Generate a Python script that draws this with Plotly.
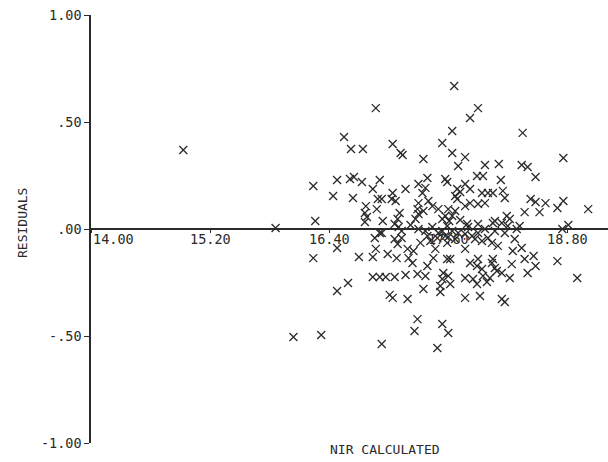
import plotly.graph_objects as go

# NIR calculated values (x) and residuals (y)
nir_calc = [
    14.93, 15.86, 16.04, 16.32, 16.26, 16.24, 16.24, 16.44, 16.48, 16.48,
    16.48, 16.59, 16.55, 16.62, 16.74, 16.87, 16.61, 16.65, 16.73, 16.91,
    16.64, 16.84, 16.89, 16.93, 16.77, 16.76, 16.78, 16.76, 16.88, 16.94,
    16.70, 16.84, 16.86, 16.93, 16.87, 16.84, 16.91, 16.97, 17.06, 17.17,
    17.01, 17.04, 17.19, 16.93, 17.29, 17.26, 17.54, 17.60, 17.49, 16.99,
    17.08, 17.06, 17.13, 17.09, 17.19, 17.20, 17.25, 17.24, 17.32, 17.39,
    17.42, 17.47, 17.45, 17.39, 17.37, 17.29, 17.49, 17.54, 17.59, 17.59,
    17.55, 17.54, 17.52, 17.35, 17.62, 17.52, 17.04, 17.54, 17.12, 17.14,
    17.35, 17.64, 17.77, 17.70, 17.97, 17.89, 17.95, 17.39, 17.57, 17.59,
    17.30, 17.37, 17.34, 17.17, 17.04, 17.03, 17.07, 17.69, 17.72, 17.67,
    17.69, 17.77, 17.82, 17.94, 18.00, 17.90, 17.97, 17.40, 17.44, 17.30,
    17.29, 17.30, 17.27, 17.50, 17.60, 17.67, 17.57, 17.64, 17.11, 17.09,
    17.06, 17.10, 17.77, 17.82, 17.66, 17.90, 17.82, 17.64, 18.35, 18.76,
    18.11, 18.34, 18.40, 18.48, 18.13, 18.05, 18.15, 18.17, 18.43, 18.48,
    18.58, 18.76, 18.70, 18.37, 18.52, 19.01, 18.07, 18.14, 18.22, 18.20,
    18.81, 18.75, 18.29, 17.90, 17.72, 17.61, 17.54, 17.59, 17.22, 17.30,
    17.37, 17.44, 17.50, 17.57, 17.64, 17.70, 17.60, 17.67, 17.77, 17.84,
    17.90, 17.87, 17.94, 18.00, 18.04, 18.10, 18.27, 18.25, 18.34, 17.77,
    17.82, 17.89, 17.90, 18.05, 18.07, 18.24, 18.37, 18.46, 18.48, 18.40,
    18.70, 18.90, 17.62, 17.60, 17.77, 17.85, 17.89, 17.95, 18.02, 18.09,
    18.14, 18.22, 17.77, 17.92, 18.14, 18.17, 18.19, 18.07, 18.17, 17.97,
    17.80, 17.13, 18.32, 16.91, 17.35, 17.79, 18.05, 18.04, 17.99, 17.94,
]
residuals = [
    0.369, 0.005, -0.505, -0.495, 0.037, 0.201, -0.136, 0.154, 0.229, -0.089,
    -0.290, -0.252, 0.430, 0.374, 0.374, 0.565, 0.234, 0.243, 0.220, 0.229,
    0.145, 0.187, 0.140, 0.140, 0.107, 0.075, 0.056, 0.033, 0.093, 0.037,
    -0.131, -0.131, -0.042, -0.019, -0.093, -0.224, -0.224, -0.224, -0.224, -0.215,
    -0.308, -0.322, -0.327, -0.537, -0.421, -0.477, -0.444, -0.486, -0.556, -0.117,
    -0.136, -0.047, -0.042, -0.070, -0.093, -0.136, -0.103, -0.159, -0.065, -0.033,
    -0.056, -0.093, -0.136, -0.173, -0.220, -0.210, -0.042, -0.009, -0.065, -0.140,
    -0.206, -0.234, -0.266, -0.280, -0.257, -0.294, 0.397, 0.402, 0.355, 0.346,
    0.327, 0.355, 0.336, 0.294, 0.299, 0.248, 0.248, 0.238, 0.234, 0.220,
    0.210, 0.192, 0.168, 0.187, 0.168, 0.140, 0.131, 0.187, 0.173, 0.154,
    0.140, 0.210, 0.187, 0.168, 0.168, 0.117, 0.121, 0.131, 0.107, 0.121,
    0.093, 0.070, 0.047, 0.093, 0.093, 0.084, 0.061, 0.061, 0.075, 0.047,
    0.023, 0.009, 0.107, 0.121, 0.668, 0.565, 0.519, 0.458, 0.449, 0.332,
    0.304, 0.299, 0.290, 0.243, 0.229, 0.168, 0.178, 0.145, 0.140, 0.126,
    0.121, 0.131, 0.098, 0.079, 0.079, 0.093, 0.037, 0.028, 0.047, 0.014,
    0.019, 0.000, 0.000, 0.023, 0.042, 0.037, 0.047, 0.014, 0.019, 0.000,
    -0.009, 0.009, -0.019, -0.033, -0.009, -0.019, -0.037, -0.047, -0.023, -0.033,
    -0.019, -0.047, -0.056, -0.042, -0.065, -0.079, -0.047, -0.103, -0.089, -0.093,
    -0.159, -0.173, -0.140, -0.140, -0.182, -0.164, -0.140, -0.126, -0.173, -0.206,
    -0.150, -0.229, -0.140, -0.220, -0.229, -0.234, -0.257, -0.220, -0.229, -0.196,
    -0.206, -0.229, -0.322, -0.313, -0.327, -0.341, 0.061, -0.009, -0.019, 0.000,
    0.009, -0.009, 0.014, -0.019, 0.084, 0.023, 0.028, -0.159, -0.248, -0.187,
]

x_tick_vals = [14.0, 15.2, 16.4, 17.6, 18.8]
x_tick_text = ["14.00", "15.20", "16.40", "17.60", "18.80"]
y_tick_vals = [-1.0, -0.5, 0.0, 0.5, 1.0]
y_tick_text = ["-1.00", "-.50", ".00", ".50", "1.00"]

font_family = "DejaVu Sans Mono"
ink = "#2a2a2a"

fig = go.Figure(
    go.Scatter(
        x=nir_calc,
        y=residuals,
        mode="markers",
        marker=dict(symbol="x-thin", size=8, color=ink, line=dict(width=1.3, color=ink)),
        showlegend=False,
        hoverinfo="skip",
    )
)

# x tick labels sit right under the axis line that crosses at y = 0
x_label_annotations = [
    dict(
        text=txt,
        x=val, xref="x",
        y=0, yref="y",
        xanchor="left" if i == 0 else "center",
        yanchor="top",
        showarrow=False,
        font=dict(family=font_family, size=13.5, color=ink),
    )
    for i, (val, txt) in enumerate(zip(x_tick_vals, x_tick_text))
]

fig.update_layout(
    width=608,
    height=462,
    margin=dict(l=91, r=0, t=15, b=19),
    paper_bgcolor="white",
    plot_bgcolor="white",
    font=dict(family=font_family, size=13, color=ink),
    xaxis=dict(
        range=[14.0, 19.21],
        anchor="free",
        position=0.5,
        showgrid=False,
        zeroline=False,
        showline=True,
        linecolor=ink,
        linewidth=1.5,
        ticks="outside",
        ticklen=3,
        tickcolor=ink,
        tickvals=x_tick_vals,
        showticklabels=False,
    ),
    yaxis=dict(
        range=[-1.0, 1.0],
        showgrid=False,
        zeroline=False,
        showline=True,
        linecolor=ink,
        linewidth=1.5,
        ticks="outside",
        ticklen=5,
        tickcolor=ink,
        tickvals=y_tick_vals,
        ticktext=y_tick_text,
        tickfont=dict(family=font_family, size=13.5, color=ink),
    ),
    annotations=x_label_annotations + [
        dict(
            text="RESIDUALS",
            xref="paper", yref="paper",
            x=-0.1335, y=0.514,
            xanchor="center", yanchor="middle",
            textangle=-90,
            showarrow=False,
            font=dict(family=font_family, size=13, color=ink),
        ),
        dict(
            text="NIR CALCULATED",
            xref="paper", yref="paper",
            x=0.569, y=-0.016,
            xanchor="center", yanchor="middle",
            showarrow=False,
            font=dict(family=font_family, size=13, color=ink),
        ),
    ],
)

fig.write_html(
    "out.html",
    config={"displayModeBar": False},
    post_script="document.body.style.margin='0';document.body.style.overflow='hidden';",
)
